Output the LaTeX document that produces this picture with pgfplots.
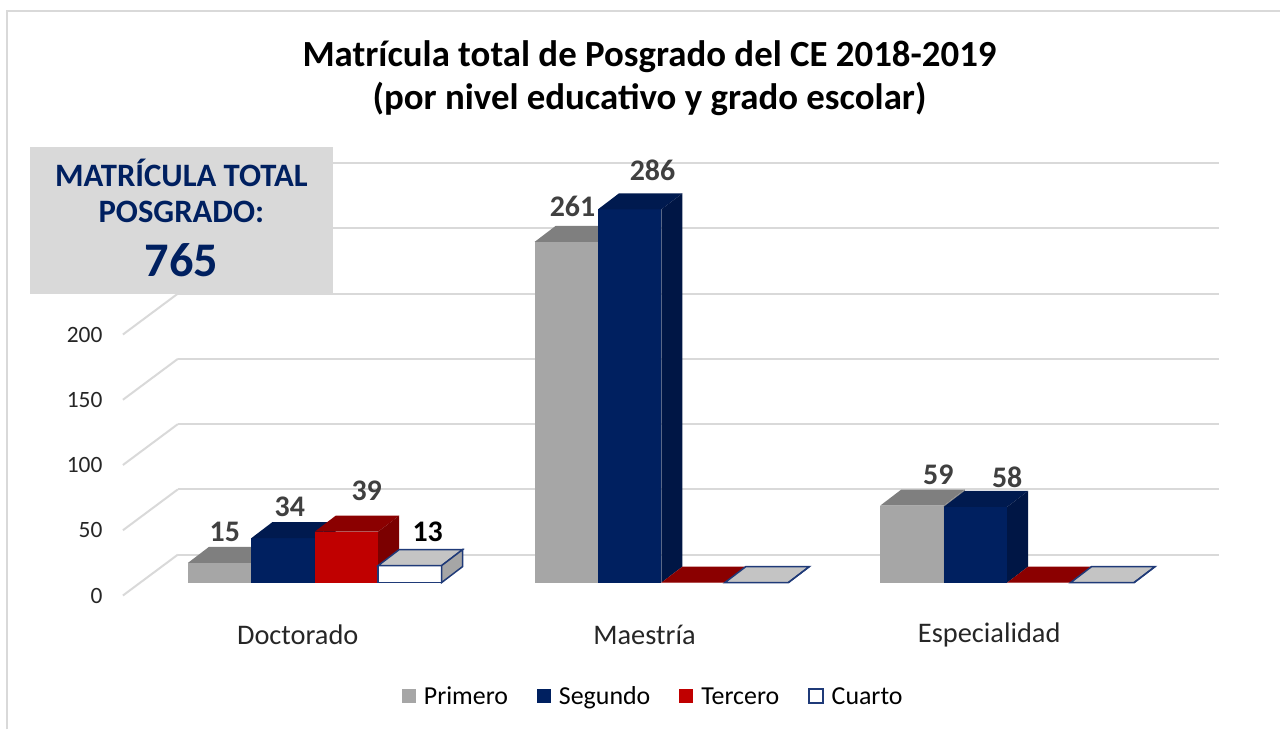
\documentclass[border=0pt]{standalone}
\usepackage{pgfplots}
\pgfplotsset{compat=1.18}
\usepackage{fontspec}
\setmainfont{Carlito}

\definecolor{gPrim}{HTML}{A6A6A6}
\definecolor{gPrimTop}{HTML}{7F7F7F}
\definecolor{gPrimSide}{HTML}{8C8C8C}
\definecolor{navy}{HTML}{002060}
\definecolor{navyTop}{HTML}{001A4F}
\definecolor{navySide}{HTML}{001645}
\definecolor{redF}{HTML}{C00000}
\definecolor{redTop}{HTML}{8B0000}
\definecolor{redSide}{HTML}{7B0000}
\definecolor{cuTop}{HTML}{C4C4C4}
\definecolor{cuSide}{HTML}{A6A6A6}
\definecolor{cuLine}{HTML}{1F3A78}
\definecolor{gridcol}{HTML}{D9D9D9}
\definecolor{boxgray}{HTML}{D9D9D9}
\definecolor{labcol}{HTML}{404040}
\definecolor{txtcol}{HTML}{262626}

\newcommand{\bw}{63.5}
\newcommand{\ddx}{21}
\newcommand{\ddy}{12.25}

% 3D bar: #1 left x (px), #2 value, #3 front, #4 top, #5 side, #6 draw options
\newcommand{\barthreed}[6]{%
  \pgfmathsetmacro{\xa}{#1}%
  \pgfmathsetmacro{\xb}{#1+\bw}%
  \pgfmathsetmacro{\xc}{#1+\ddx}%
  \pgfmathsetmacro{\xd}{#1+\bw+\ddx}%
  \pgfmathsetmacro{\yt}{#2+\ddy}%
  \edef\barTmp{%
    \noexpand\addplot[fill=#3,#6,forget plot,mark=none] coordinates {(\xa,0) (\xb,0) (\xb,#2) (\xa,#2)} --cycle;%
    \noexpand\addplot[fill=#4,#6,forget plot,mark=none] coordinates {(\xa,#2) (\xb,#2) (\xd,\yt) (\xc,\yt)} --cycle;%
    \noexpand\addplot[fill=#5,#6,forget plot,mark=none] coordinates {(\xb,0) (\xd,\ddy) (\xd,\yt) (\xb,#2)} --cycle;%
  }\barTmp
}

\begin{document}
\begin{tikzpicture}
\begin{axis}[
  width=1281bp, height=730bp, scale only axis,
  xmin=0, xmax=1281, ymin=-112.56, ymax=446.4,
  axis lines=none, clip=false,
  legend image code/.code={\path[#1] (0bp,-1bp) rectangle (14bp,13bp);},
  legend columns=4,
  legend cell align=left,
  legend style={at={(axis cs:402,-88.8)}, anchor=west, draw=none, fill=none,
    inner sep=0pt, font=\fontsize{26}{31}\selectfont,
    nodes={inner xsep=0pt, text height=0.7em, text depth=0.22em},
    /tikz/every odd column/.append style={column sep=8bp},
    /tikz/every even column/.append style={column sep=29bp}},
]
\path (rel axis cs:0,0) rectangle (rel axis cs:1,1);

\addlegendimage{fill=gPrim, draw=none}
\addlegendentry{Primero}
\addlegendimage{fill=navy, draw=none}
\addlegendentry{Segundo}
\addlegendimage{fill=redF, draw=none}
\addlegendentry{Tercero}
\addlegendimage{fill=white, draw=cuLine, line width=1.5bp}
\addlegendentry{Cuarto}

% back wall gridlines (0..300)
\addplot[gridcol, line width=2bp, forget plot] coordinates {(178,21.4) (1220,21.4)};
\addplot[gridcol, line width=2bp, forget plot] coordinates {(178,71.4) (1220,71.4)};
\addplot[gridcol, line width=2bp, forget plot] coordinates {(178,121.4) (1220,121.4)};
\addplot[gridcol, line width=2bp, forget plot] coordinates {(178,171.4) (1220,171.4)};
\addplot[gridcol, line width=2bp, forget plot] coordinates {(178,221.4) (1220,221.4)};
\addplot[gridcol, line width=2bp, forget plot] coordinates {(178,271.4) (1220,271.4)};
\addplot[gridcol, line width=2bp, forget plot] coordinates {(178,321.4) (1220,321.4)};
% side wall diagonals
\addplot[gridcol, line width=2bp, forget plot] coordinates {(123,-9.95) (178,21.4)};
\addplot[gridcol, line width=2bp, forget plot] coordinates {(123,40.05) (178,71.4)};
\addplot[gridcol, line width=2bp, forget plot] coordinates {(123,90.05) (178,121.4)};
\addplot[gridcol, line width=2bp, forget plot] coordinates {(123,140.05) (178,171.4)};
\addplot[gridcol, line width=2bp, forget plot] coordinates {(123,190.05) (178,221.4)};

% Doctorado
\barthreed{188}{15}{gPrim}{gPrimTop}{gPrimSide}{draw=none}
\barthreed{251.5}{34}{navy}{navyTop}{navySide}{draw=none}
\barthreed{315}{39}{redF}{redTop}{redSide}{draw=none}
\barthreed{378.5}{13}{white}{cuTop}{cuSide}{draw=cuLine,line width=1.5bp}
% Maestria
\barthreed{535}{261}{gPrim}{gPrimTop}{gPrimSide}{draw=none}
\barthreed{598.5}{286}{navy}{navyTop}{navySide}{draw=none}
\barthreed{662}{0}{redF}{redTop}{redSide}{draw=none}
\barthreed{725.5}{0}{white}{cuTop}{cuSide}{draw=cuLine,line width=1.5bp}
% Especialidad
\barthreed{881}{59}{gPrim}{gPrimTop}{gPrimSide}{draw=none}
\barthreed{944.5}{58}{navy}{navyTop}{navySide}{draw=none}
\barthreed{1008}{0}{redF}{redTop}{redSide}{draw=none}
\barthreed{1071.5}{0}{white}{cuTop}{cuSide}{draw=cuLine,line width=1.5bp}

% outer border
\draw[gridcol, line width=2bp] (axis cs:7,-112.56) -- (axis cs:7,438) -- (axis cs:1281,438);

% gray box
\fill[boxgray] (axis cs:30,333.8) rectangle (axis cs:333,221.3);
\node[text=navy, font=\bfseries\fontsize{32.8}{38}\selectfont] at (axis cs:181.5,313.9) {MATRÍCULA TOTAL};
\node[text=navy, font=\bfseries\fontsize{32.8}{38}\selectfont] at (axis cs:181.5,284.1) {POSGRADO:};
\node[text=navy, font=\bfseries\fontsize{48.5}{55}\selectfont] at (axis cs:181.5,247.3) {765};

% title
\node[align=center, font=\bfseries\fontsize{37}{43}\selectfont] at (axis cs:650,386.2)
  {Matrícula total de Posgrado del CE 2018-2019\\(por nivel educativo y grado escolar)};

% y tick labels
\begin{scope}[every node/.style={anchor=east, text=txtcol, font=\fontsize{23.5}{28}\selectfont}]
\node at (axis cs:106,-9.95) {0};
\node at (axis cs:106,40.05) {50};
\node at (axis cs:106,90.05) {100};
\node at (axis cs:106,140.05) {150};
\node at (axis cs:106,190.05) {200};
\end{scope}

% category labels
\begin{scope}[every node/.style={text=txtcol, font=\fontsize{28.5}{34}\selectfont}]
\node at (axis cs:298,-39.8) {Doctorado};
\node at (axis cs:645,-39.8) {Maestría};
\node at (axis cs:990,-39.8) {Especialidad};
\end{scope}

% data labels
\begin{scope}[every node/.style={text=labcol, font=\bfseries\fontsize{30}{36}\selectfont}]
\node at (axis cs:225,39.0) {15};
\node at (axis cs:290,58.3) {34};
\node at (axis cs:367,70.4) {39};
\node[text=black] at (axis cs:428,39.0) {13};
\node at (axis cs:573,288.6) {261};
\node at (axis cs:653,316.2) {286};
\node at (axis cs:939,82.7) {59};
\node at (axis cs:1008,80.4) {58};
\end{scope}
\end{axis}
\end{tikzpicture}
\end{document}
